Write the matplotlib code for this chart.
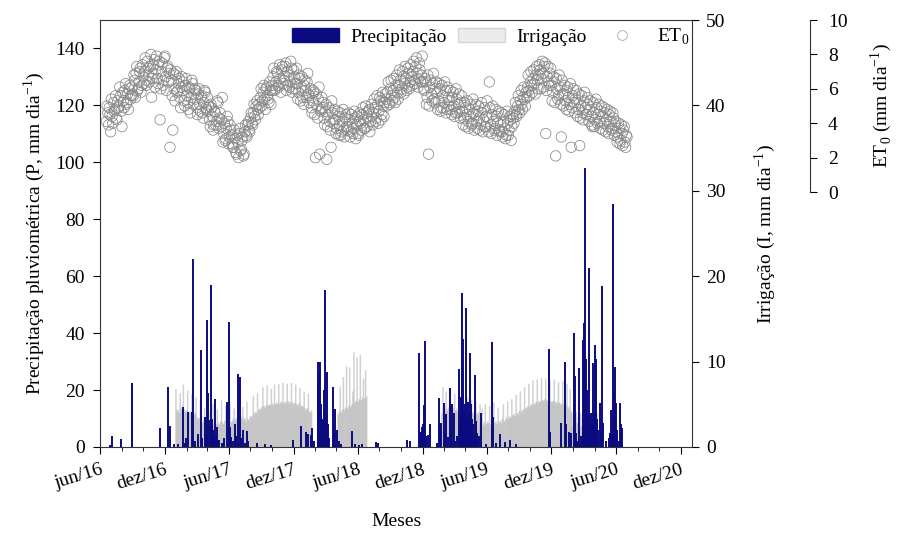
import matplotlib
matplotlib.use("Agg")
import matplotlib.pyplot as plt
import matplotlib.dates as mdates
from matplotlib.patches import Patch
from matplotlib.lines import Line2D
import numpy as np

plt.rcParams["font.family"] = ["Liberation Serif", "DejaVu Serif"]
plt.rcParams["mathtext.fontset"] = "custom"
plt.rcParams["mathtext.rm"] = "Liberation Serif"
plt.rcParams["font.size"] = 14

NAVY = "#0b0b80"
IRR_GRAY = "#9a9a9a"
ET_GRAY = "#888888"

START = np.datetime64("2016-06-01")
END = np.datetime64("2021-01-02")

# ------------------------------------------------------------
# Precipitação (dias contados a partir de 01/06/2016, mm)
# ------------------------------------------------------------
P_DAY = [28, 34, 59, 91, 170, 193, 198, 210,
         222, 234, 240, 244, 250, 260, 264, 270, 278, 285, 290, 296, 300, 304, 307,
         310, 313, 316, 318, 320, 322, 326, 328, 332, 338, 345, 352, 359, 364, 368,
         372, 376, 382, 386, 392, 396, 400, 406, 410, 415, 420,
         445, 467, 484, 547, 569, 583, 589, 598, 600, 606,
         617, 618, 620, 621, 623, 624, 626, 627, 629, 630, 632, 634, 635, 637, 640,
         643, 646, 649, 660, 663, 666, 671, 677, 682, 714, 722, 733, 742, 782, 787,
         869, 878,
         903, 906, 909, 912, 915, 918, 920, 923, 929, 935, 954, 960, 963, 966, 974,
         977, 980, 986, 991, 994, 997, 1003, 1006, 1011, 1017, 1019, 1022, 1025,
         1028, 1031, 1033, 1036, 1039, 1042, 1045, 1048, 1051, 1054, 1056, 1059,
         1062, 1065, 1068, 1073, 1079, 1093, 1110, 1113, 1121, 1133, 1147, 1161, 1178,
         1272, 1274, 1306, 1317, 1320, 1328, 1334, 1342, 1345, 1348, 1351, 1357,
         1362, 1366, 1368, 1371, 1374, 1376, 1379, 1382, 1385, 1388, 1391, 1394,
         1396, 1399, 1402, 1405, 1408, 1411, 1416, 1419, 1422, 1425, 1433, 1441,
         1444, 1447, 1450, 1453, 1456, 1458, 1461, 1464, 1470, 1473, 1475, 1478]
P_MM = [0.8, 3.9, 2.8, 22.5, 6.6, 21.0, 7.4, 1.0,
        1.2, 14.0, 1.5, 3.0, 12.3, 12.3, 66.0, 2.0, 4.5, 34.0, 3.0, 10.6, 5.0, 44.7, 19.0,
        9.5, 57.0, 8.0, 10.0, 6.0, 4.0, 17.0, 4.0, 7.0, 2.5, 1.5, 3.0, 15.8, 44.0, 7.0,
        3.5, 2.0, 8.0, 4.0, 25.6, 24.7, 3.0, 6.0, 1.5, 5.7, 2.0,
        1.3, 1.0, 0.8, 2.6, 7.4, 5.3, 4.5, 4.2, 6.6, 2.0,
        30.0, 22.0, 24.0, 26.0, 30.0, 18.0, 12.0, 15.0, 10.0, 9.0, 7.0, 20.0, 8.0, 55.0, 12.0,
        26.5, 8.0, 3.0, 21.0, 6.0, 13.4, 6.0, 2.0, 1.0, 5.6, 1.0, 0.8, 1.0, 1.8, 1.5,
        2.3, 2.0,
        33.0, 5.0, 5.3, 7.0, 8.0, 14.8, 37.3, 4.0, 4.2, 8.1, 1.3, 17.2, 8.0, 8.4, 15.5,
        5.0, 11.6, 3.5, 20.7, 6.0, 15.1, 12.0, 2.0, 4.0, 27.4, 10.0, 17.6, 54.2,
        38.0, 12.0, 15.0, 48.9, 10.0, 15.8, 12.0, 33.0, 15.0, 10.0, 8.0, 4.0,
        25.3, 9.0, 5.0, 4.0, 12.0, 1.0, 37.0, 10.6, 1.5, 4.6, 1.8, 2.3, 1.0,
        34.5, 5.3, 8.4, 30.0, 8.0, 5.3, 5.0, 40.0, 25.0, 5.0, 2.0, 27.8,
        4.0, 10.0, 37.6, 43.6, 98.0, 31.0, 20.0, 12.0, 63.0, 10.0, 12.0, 8.0,
        29.5, 12.0, 36.0, 31.0, 10.0, 6.0, 15.5, 5.0, 56.6, 8.4, 2.0, 3.0,
        4.9, 13.0, 4.0, 85.5, 20.0, 28.0, 15.5, 6.0, 2.0, 15.5, 8.0, 6.5]

# ------------------------------------------------------------
# Irrigação: eventos a cada 3 dias, por período (mm)
# ------------------------------------------------------------
IRR_STEP = 3
IRR_START = [215, 428, 671, 968, 1076, 1336]
IRR_A = [6.8, 4.2, 4.4, 4.0, 6.3, 4.5, 4.3, 7.3, 4.4, 4.1,
         4.3, 6.6, 4.0, 4.2, 3.9, 6.2, 4.1, 3.8, 4.0, 5.8,
         3.5, 3.2, 3.4, 5.4, 3.0, 2.8, 3.1, 4.6, 2.7, 2.9,
         2.6, 4.2, 2.8, 2.5, 2.7, 5.0, 2.6, 2.9, 2.7, 4.4,
         2.8, 2.6, 3.0, 5.5, 2.9, 2.7, 3.1, 4.8, 2.8, 3.0,
         3.2, 5.2, 3.0, 2.9, 3.3, 4.5, 3.1, 3.4, 3.2, 5.0,
         3.3, 3.1, 3.5, 4.7, 3.2, 3.4, 3.0, 5.3, 3.3, 3.1, 3.6]
IRR_B1 = [3.5, 3.7, 6.0, 3.9, 4.1, 4.0, 6.3, 4.3, 4.5, 4.4,
          4.7, 7.0, 4.8, 4.6, 4.9, 7.2, 4.8, 5.0, 4.9, 6.8,
          5.1, 4.9, 7.3, 5.0, 5.2, 5.1, 7.4, 5.0, 5.3, 5.2,
          7.5, 5.1, 5.3, 5.2, 7.4, 5.4, 5.1, 5.3, 7.5, 5.2,
          5.0, 5.2, 7.3, 5.0, 4.8, 5.1, 6.9, 4.9, 4.7, 4.8,
          6.5, 4.5, 4.3, 4.6, 6.2, 4.2, 4.0, 4.3]
IRR_B3 = [2.0, 3.8, 4.2, 7.0, 4.0, 4.4, 8.2, 4.3, 4.6, 9.4,
          4.5, 4.8, 9.3, 4.7, 5.0, 6.5, 11.1, 5.2, 5.4, 10.5,
          5.3, 5.6, 10.8, 5.5, 5.8, 8.0, 5.7, 9.0, 5.9]
IRR_C1 = [4.0, 7.0, 4.2, 4.5, 6.5, 4.3, 4.6, 4.4, 6.8, 4.5,
          4.2, 4.6, 6.2, 4.3, 4.5, 4.1, 6.6, 4.4, 4.2, 4.5,
          6.0, 4.3, 4.1, 4.4, 5.8, 4.2, 4.0, 4.3, 5.5, 4.1,
          3.9, 4.2, 5.3, 4.0, 3.8, 4.1, 5.0, 3.9]
IRR_C2 = [2.5, 2.8, 4.5, 2.6, 2.9, 5.0, 2.7, 3.0, 2.8, 4.8,
          2.6, 2.9, 3.1, 5.2, 2.8, 3.0, 2.7, 4.6, 2.9, 3.1,
          2.8, 3.3, 5.0, 3.0, 3.2, 3.5, 5.3, 3.3, 3.6, 3.4,
          5.6, 3.7, 3.9, 3.6, 6.1, 4.0, 3.8, 4.2, 6.5, 4.1,
          4.4, 4.3, 7.0, 4.6, 4.5, 4.8, 7.4, 4.7, 5.0, 4.9,
          7.8, 5.1, 5.0, 5.3, 7.9, 5.2, 5.4, 5.3, 8.1, 5.5,
          5.4, 5.6, 8.0, 5.5, 5.3, 5.5, 7.8, 5.4, 5.2, 5.4,
          7.9, 5.3, 5.1, 5.3, 7.6, 5.2, 5.0, 5.1, 7.7, 5.0,
          4.8, 5.0, 7.4, 4.7, 4.5, 6.8, 4.2]
IRR_C3 = [4.0, 2.5, 3.8, 2.2, 4.1, 2.8, 3.5, 2.0, 4.0, 2.4,
          3.9, 2.1, 3.6, 2.0, 3.8, 1.8, 4.0, 2.2, 3.5, 2.0,
          3.7, 1.9, 3.9, 2.0, 4.0]
IRR_SEG = [IRR_A, IRR_B1, IRR_B3, IRR_C1, IRR_C2, IRR_C3]

# ------------------------------------------------------------
# ET0: duas séries intercaladas, um valor a cada 4 dias (mm/dia)
# ------------------------------------------------------------
ET0_STEP = 4
ET0_A_DAY0 = 18
ET0_A = [
    4.1, 4.6, 4.9, 3.5, 4.4, 5.2, 4.8, 4.3, 5.3,
    5.0, 5.6, 3.8, 5.3, 5.9, 5.1, 5.7, 6.0, 5.4,
    6.1, 5.6, 6.5, 6.9, 5.9, 6.4, 7.2, 6.2, 6.7,
    7.0, 6.5, 7.6, 6.8, 7.3, 5.5, 6.9, 7.7, 7.1,
    6.6, 7.4, 4.2, 7.0, 6.2, 7.8, 6.7, 7.2, 6.4,
    2.6, 6.5, 3.6, 6.0, 6.8, 5.8, 6.3, 5.5, 6.1,
    5.9, 5.3, 6.2, 5.6, 4.8, 6.0, 5.5, 6.3, 5.7,
    5.4, 4.9, 5.7, 5.1, 5.5, 4.6, 5.2, 5.8, 4.8,
    4.7, 4.2, 5.1, 4.4, 3.9, 4.6, 4.1, 5.2, 4.3,
    3.8, 5.5, 3.4, 3.0, 3.7, 4.1, 3.2, 3.6, 2.8,
    2.6, 3.1, 2.2, 2.9, 3.4, 2.4, 3.0, 2.1, 3.5,
    3.3, 3.9, 3.6, 4.3, 4.0, 4.6, 4.4, 5.0, 4.8,
    5.1, 5.5, 5.0, 5.8, 5.4, 6.0, 5.6, 5.2, 5.9,
    6.2, 6.7, 5.9, 6.4, 6.9, 6.1, 6.6, 7.1, 6.3,
    6.5, 7.5, 6.2, 6.8, 6.4, 7.2, 6.0, 6.7, 6.3,
    6.3, 5.8, 6.6, 6.1, 5.5, 6.2, 5.9, 6.4, 5.7,
    5.6, 4.9, 5.3, 5.8, 2.0, 5.0, 5.4, 2.2, 4.8,
    4.9, 4.3, 4.7, 1.9, 4.5, 4.1, 2.6, 4.6, 4.2,
    4.2, 3.7, 4.4, 3.9, 3.3, 4.1, 3.6, 4.3, 3.8,
    3.8, 4.2, 3.5, 4.0, 3.7, 4.3, 3.9, 3.4, 4.1,
    4.0, 4.5, 4.2, 3.7, 4.6, 4.3, 4.8, 4.1, 4.4,
    4.6, 4.9, 4.3, 5.1, 4.7, 5.3, 4.5, 5.0, 5.2,
    5.4, 5.8, 5.2, 6.0, 5.6, 5.9, 5.5, 6.2, 5.8,
    6.2, 6.5, 6.0, 6.7, 6.3, 6.6, 6.1, 6.9, 6.4,
    6.7, 7.0, 6.5, 7.3, 6.9, 6.6, 7.1, 6.8, 6.4,
    5.9, 6.4, 5.5, 2.2, 6.1, 5.7, 6.3, 5.4, 6.0,
    5.8, 5.3, 6.0, 4.9, 5.6, 5.2, 5.9, 4.8, 5.5,
    5.3, 4.8, 5.5, 5.0, 4.6, 5.4, 5.1, 4.7, 5.2,
    4.7, 4.3, 4.9, 4.5, 4.1, 4.8, 4.4, 4.0, 4.6,
    4.5, 4.1, 4.7, 4.3, 3.9, 4.6, 4.2, 3.8, 4.4,
    4.3, 6.4, 3.9, 4.5, 4.1, 3.7, 4.4, 4.0, 3.6,
    3.9, 3.5, 4.1, 3.7, 3.3, 4.0, 3.6, 4.2, 3.8,
    4.3, 4.7, 4.5, 5.0, 4.8, 5.3, 5.1, 5.5, 5.4,
    5.8, 6.1, 5.9, 6.4, 6.2, 6.6, 6.3, 6.8, 6.5,
    6.8, 7.1, 6.6, 6.9, 7.3, 3.4, 6.7, 6.4, 6.9,
    6.2, 5.8, 6.4, 2.1, 6.0, 5.6, 6.1, 3.2, 5.7,
    5.7, 5.3, 5.9, 5.5, 5.1, 2.6, 5.6, 5.2, 5.4,
    5.2, 4.8, 2.7, 5.0, 4.6, 5.3, 4.9, 4.5, 5.1,
    4.8, 4.4, 3.8, 4.6, 4.2, 4.9, 4.5, 4.1, 4.7,
    4.4, 4.0, 4.6, 4.2, 3.8, 4.5, 4.1, 3.7, 4.3,
    3.9, 3.5, 3.2, 3.7, 3.0, 3.4, 3.6, 2.9, 3.3,
]
ET0_B_DAY0 = 20
ET0_B = [
    5.0, 3.9, 4.5, 5.4, 4.0, 4.7, 5.6, 4.2, 4.9,
    6.1, 4.7, 5.8, 4.9, 6.3, 5.2, 4.8, 6.2, 5.6,
    5.7, 6.8, 5.5, 7.3, 6.0, 7.0, 5.8, 7.4, 6.3,
    7.8, 6.2, 7.2, 6.4, 8.0, 6.6, 7.4, 6.1, 7.9,
    6.3, 7.6, 6.0, 7.5, 6.5, 7.9, 5.9, 7.3, 6.9,
    7.1, 5.6, 6.9, 5.3, 7.0, 5.9, 6.6, 4.9, 6.7,
    6.4, 5.0, 6.6, 5.2, 6.1, 4.6, 6.5, 5.1, 6.0,
    5.9, 4.5, 6.0, 4.7, 5.6, 4.3, 5.9, 4.9, 5.5,
    5.0, 3.8, 4.9, 3.6, 4.7, 3.9, 5.3, 3.7, 4.6,
    4.2, 2.9, 4.0, 3.1, 4.4, 2.8, 3.9, 3.3, 2.6,
    3.6, 2.3, 3.3, 2.0, 3.7, 2.5, 3.2, 2.2, 3.9,
    3.2, 4.1, 3.5, 4.6, 3.9, 5.1, 4.2, 5.3, 4.5,
    4.9, 6.0, 5.3, 6.2, 4.8, 6.1, 5.4, 6.4, 5.1,
    5.9, 7.2, 6.0, 7.0, 6.2, 7.4, 5.8, 7.3, 6.7,
    7.3, 5.9, 7.0, 6.1, 7.6, 5.8, 7.1, 6.0, 7.2,
    5.4, 6.8, 5.3, 6.7, 5.1, 6.5, 5.5, 6.9, 5.2,
    6.0, 4.6, 5.9, 4.5, 5.7, 4.3, 6.1, 4.7, 5.5,
    5.2, 3.9, 5.1, 3.8, 4.9, 3.6, 5.3, 4.0, 4.8,
    3.4, 4.7, 3.3, 4.6, 3.5, 4.8, 3.2, 4.5, 3.6,
    4.6, 3.2, 4.5, 3.4, 4.7, 3.1, 4.4, 3.3, 4.6,
    3.6, 4.9, 3.7, 5.0, 3.8, 4.7, 3.5, 5.1, 3.9,
    5.4, 4.1, 5.6, 4.0, 5.5, 4.2, 5.8, 4.4, 5.7,
    5.0, 6.4, 5.1, 6.5, 5.3, 6.6, 5.2, 6.8, 5.4,
    7.1, 5.8, 7.0, 5.7, 7.3, 5.9, 7.2, 6.0, 7.4,
    6.2, 7.6, 6.3, 7.8, 6.1, 7.5, 6.4, 7.9, 6.0,
    6.6, 5.1, 6.8, 5.0, 6.5, 5.3, 6.9, 5.2, 6.4,
    4.8, 6.3, 4.7, 6.2, 4.9, 6.4, 4.6, 6.1, 5.0,
    5.9, 4.5, 5.8, 4.4, 6.0, 4.6, 5.7, 4.3, 5.6,
    3.9, 5.2, 3.8, 5.3, 3.7, 5.1, 3.9, 5.4, 3.6,
    5.1, 3.7, 5.0, 3.6, 5.2, 3.5, 4.9, 3.8, 5.3,
    3.5, 4.9, 3.4, 5.0, 3.6, 4.8, 3.3, 4.7, 3.5,
    4.6, 3.2, 4.5, 3.1, 4.7, 3.3, 4.4, 3.0, 4.5,
    4.0, 5.2, 4.4, 5.6, 4.6, 5.9, 4.8, 6.1, 5.0,
    5.5, 6.8, 5.6, 7.0, 5.8, 7.1, 5.7, 7.3, 6.0,
    7.4, 6.0, 7.6, 6.1, 7.5, 5.9, 7.3, 6.2, 7.2,
    5.3, 6.7, 5.2, 6.6, 5.4, 6.8, 5.1, 6.5, 5.0,
    6.2, 4.8, 6.1, 4.7, 6.3, 4.9, 6.0, 4.6, 5.9,
    4.4, 5.7, 4.3, 5.6, 4.2, 5.8, 4.5, 5.5, 4.1,
    5.3, 3.9, 5.2, 3.8, 5.4, 4.0, 5.1, 3.7, 5.0,
    3.6, 4.9, 3.5, 4.8, 3.4, 4.7, 3.6, 4.6, 3.3,
    4.1, 2.9, 4.0, 2.8, 3.9, 2.7, 3.8, 2.6, 3.2,
]

MESES = {6: "jun", 12: "dez"}


def to_num(days):
    return mdates.date2num(START + np.asarray(days).astype("timedelta64[D]"))


p_x = to_num(P_DAY)
irr_days = np.concatenate([s + IRR_STEP * np.arange(len(v)) for s, v in zip(IRR_START, IRR_SEG)])
irr_mm = np.concatenate(IRR_SEG)
irr_x = to_num(irr_days)
et0_x = np.concatenate([to_num(ET0_A_DAY0 + ET0_STEP * np.arange(len(ET0_A))),
                        to_num(ET0_B_DAY0 + ET0_STEP * np.arange(len(ET0_B)))])
et0_v = np.concatenate([ET0_A, ET0_B])

fig = plt.figure(figsize=(8.98, 5.35), dpi=100)
ax = fig.add_axes([0.1114, 0.1645, 0.6592, 0.7981])
ax2 = ax.twinx()
ax3 = fig.add_axes([0.1114, 0.6411, 0.6592, 0.3215], sharex=ax)
ax.set_zorder(2)
ax2.set_zorder(1)
ax3.set_zorder(3)
ax.patch.set_visible(False)
ax3.patch.set_visible(False)

# barras diárias
ax2.vlines(irr_x, 0, irr_mm, colors=IRR_GRAY, linewidth=1.1, alpha=0.45, snap=False)
ax.vlines(p_x, 0, P_MM, colors=NAVY, linewidth=1.4)
ax3.scatter(et0_x, et0_v, s=56, facecolors="none", edgecolors=ET_GRAY, linewidths=0.55)

# eixo x
ax.set_xlim(mdates.date2num(START), mdates.date2num(END))
major = [np.datetime64(f"{y}-{m:02d}-01") for y in range(2016, 2021) for m in (6, 12)]
minor = [np.datetime64(f"{y}-{m:02d}-01") for y in range(2016, 2021) for m in (2, 4, 8, 10)]
minor = [d for d in minor if START < d < END]
labels = [f"{MESES[int(str(d)[5:7])]}/{str(d)[2:4]}" for d in major]
ax.set_xticks(mdates.date2num(major), labels, rotation=17, ha="right",
              rotation_mode="anchor")
ax.set_xticks(mdates.date2num(minor), minor=True)
ax.tick_params(axis="x", which="major", length=5, direction="out", pad=5)
ax.tick_params(axis="x", which="minor", length=3, direction="out")
ax.set_xlabel("Meses", labelpad=15)

# eixo P
ax.set_ylim(0, 150)
ax.set_yticks(np.arange(0, 141, 20))
ax.tick_params(axis="y", length=5, direction="out", pad=6)
ax.set_ylabel("Precipitação pluviométrica (P, mm dia$^{-1}$)")
ax.yaxis.set_label_coords(-0.09, 0.5)
ax.spines["right"].set_visible(False)

# eixo irrigação
ax2.set_ylim(0, 50)
ax2.set_yticks(np.arange(0, 51, 10))
ax2.tick_params(axis="y", length=5, direction="out", pad=5)
ax2.set_ylabel("Irrigação (I, mm dia$^{-1}$)")
ax2.yaxis.set_label_coords(1.102, 0.5)
for s in ("left", "top", "bottom"):
    ax2.spines[s].set_visible(False)

# eixo ET0
ax3.set_ylim(0, 10)
ax3.set_yticks(np.arange(0, 11, 2))
ax3.yaxis.tick_right()
ax3.yaxis.set_label_position("right")
ax3.spines["right"].set_position(("outward", 85))
for s in ("left", "top", "bottom"):
    ax3.spines[s].set_visible(False)
ax3.xaxis.set_visible(False)
ax3.tick_params(axis="y", length=5, direction="out", pad=8)
ax3.set_ylabel("ET$_0$ (mm dia$^{-1}$)")
ax3.yaxis.set_label_coords(1.298, 0.5)

for a in (ax, ax2, ax3):
    for sp in a.spines.values():
        sp.set_linewidth(0.8)
        sp.set_color("#333333")

handles = [
    Patch(facecolor=NAVY, edgecolor=NAVY),
    Patch(facecolor="#ececec", edgecolor="#d5d5d5"),
    Line2D([], [], marker="o", linestyle="none", markersize=7,
           markerfacecolor="none", markeredgecolor="#aaaaaa", markeredgewidth=0.6),
]
ax3.legend(handles, ["Precipitação", "Irrigação", "ET$_0$"], loc="upper right",
           bbox_to_anchor=(1.025, 1.025), bbox_transform=ax.transAxes, ncol=3,
           frameon=False, handlelength=2.4, handleheight=0.7, handletextpad=0.6,
           columnspacing=0.6, fontsize=14)

fig.savefig("out.png", dpi=100)
